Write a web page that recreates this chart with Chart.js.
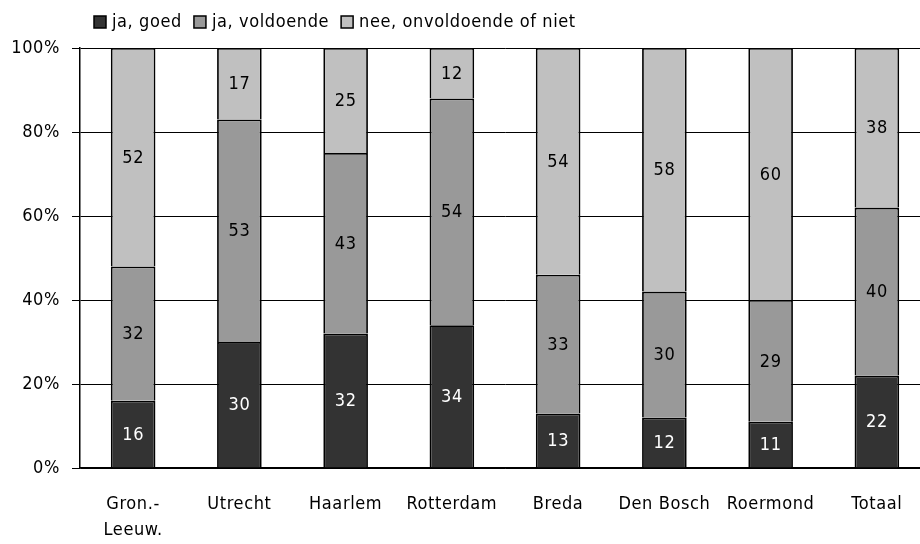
<!DOCTYPE html>
<html>
<head>
<meta charset="utf-8">
<script src="https://cdn.jsdelivr.net/npm/chart.js@4.4.0/dist/chart.umd.min.js"></script>
<style>
  html, body { margin: 0; padding: 0; background: #fff; overflow: hidden; }
  #wrap { width: 930px; height: 544px; }
</style>
</head>
<body>
<div id="wrap"><canvas id="chart"></canvas></div>
<script>
const categories = [['Gron.-', 'Leeuw.'], 'Utrecht', 'Haarlem', 'Rotterdam', 'Breda', 'Den Bosch', 'Roermond', 'Totaal']
const goed = [16, 30, 32, 34, 13, 12, 11, 22]
const voldoende = [32, 53, 43, 54, 33, 30, 29, 40]
const onvoldoende = [52, 17, 25, 12, 54, 58, 60, 38]
const seriesNames = ['ja, goed', 'ja, voldoende', 'nee, onvoldoende of niet']
const yTicks = [0, 20, 40, 60, 80, 100]

const FONT = '"DejaVu Sans Condensed", "Liberation Sans Narrow", sans-serif'
const SIZE = 18
const SPACING = '0.6px'

// the reference font is a spaced-out condensed face
const spacing = {
  id: 'spacing',
  beforeUpdate(chart) { chart.ctx.letterSpacing = SPACING },
  beforeDraw(chart) { chart.ctx.letterSpacing = SPACING }
}

// labels in the middle of each segment
const segmentLabels = {
  id: 'segmentLabels',
  afterDatasetsDraw(chart) {
    const ctx = chart.ctx
    ctx.save()
    ctx.font = SIZE + 'px ' + FONT
    ctx.textAlign = 'center'
    ctx.textBaseline = 'middle'
    chart.data.datasets.forEach((ds, i) => {
      const meta = chart.getDatasetMeta(i)
      meta.data.forEach((bar, j) => {
        const y = (bar.y + bar.base) / 2
        ctx.fillStyle = i === 0 ? '#ffffff' : '#000000'
        ctx.fillText(String(ds.data[j]), bar.x, y + 1)
      })
    })
    ctx.restore()
  }
}

// legend row above the plot
const topLegend = {
  id: 'topLegend',
  afterDraw(chart) {
    const ctx = chart.ctx
    ctx.save()
    ctx.font = SIZE + 'px ' + FONT
    ctx.textBaseline = 'middle'
    let x = chart.chartArea.left + 14
    const y = 22
    chart.data.datasets.forEach(ds => {
      ctx.fillStyle = ds.backgroundColor
      ctx.fillRect(x, y - 6, 12, 12)
      ctx.strokeStyle = '#000'
      ctx.lineWidth = 1.5
      ctx.strokeRect(x, y - 6, 12, 12)
      ctx.fillStyle = '#000'
      ctx.fillText(ds.label, x + 18, y)
      x += 18 + ctx.measureText(ds.label).width + 12
    })
    ctx.restore()
  }
}

const common = {
  borderColor: '#000000',
  borderWidth: 1.8,
  barPercentage: 0.42,
  categoryPercentage: 1.0
}

new Chart(document.getElementById('chart'), {
  type: 'bar',
  data: {
    labels: categories,
    datasets: [
      { label: seriesNames[0], data: goed, backgroundColor: '#333333', ...common },
      { label: seriesNames[1], data: voldoende, backgroundColor: '#999999', ...common },
      { label: seriesNames[2], data: onvoldoende, backgroundColor: '#c0c0c0', ...common }
    ]
  },
  options: {
    responsive: true,
    maintainAspectRatio: false,
    animation: false,
    layout: { padding: { top: 48, left: 0, right: 0, bottom: 0 } },
    plugins: {
      legend: { display: false },
      tooltip: { enabled: false }
    },
    scales: {
      x: {
        stacked: true,
        afterFit(scale) { scale.height = 76 },
        grid: { display: false },
        border: { display: true, color: '#000', width: 1.5 },
        ticks: {
          color: '#000',
          font: { family: FONT, size: SIZE, lineHeight: 1.45 },
          padding: 15,
          maxRotation: 0,
          autoSkip: false
        }
      },
      y: {
        stacked: true,
        min: 0,
        max: 100,
        afterBuildTicks(scale) {
          scale.ticks = yTicks.map(v => ({ value: v }))
        },
        afterFit(scale) { scale.width = 80 },
        grid: { color: '#000', lineWidth: 1, tickLength: 8, drawTicks: true },
        border: { display: true, color: '#000', width: 1.5 },
        ticks: {
          color: '#000',
          font: { family: FONT, size: SIZE },
          padding: 12,
          callback: v => v + '%'
        }
      }
    }
  },
  plugins: [spacing, segmentLabels, topLegend]
})
</script>
</body>
</html>
